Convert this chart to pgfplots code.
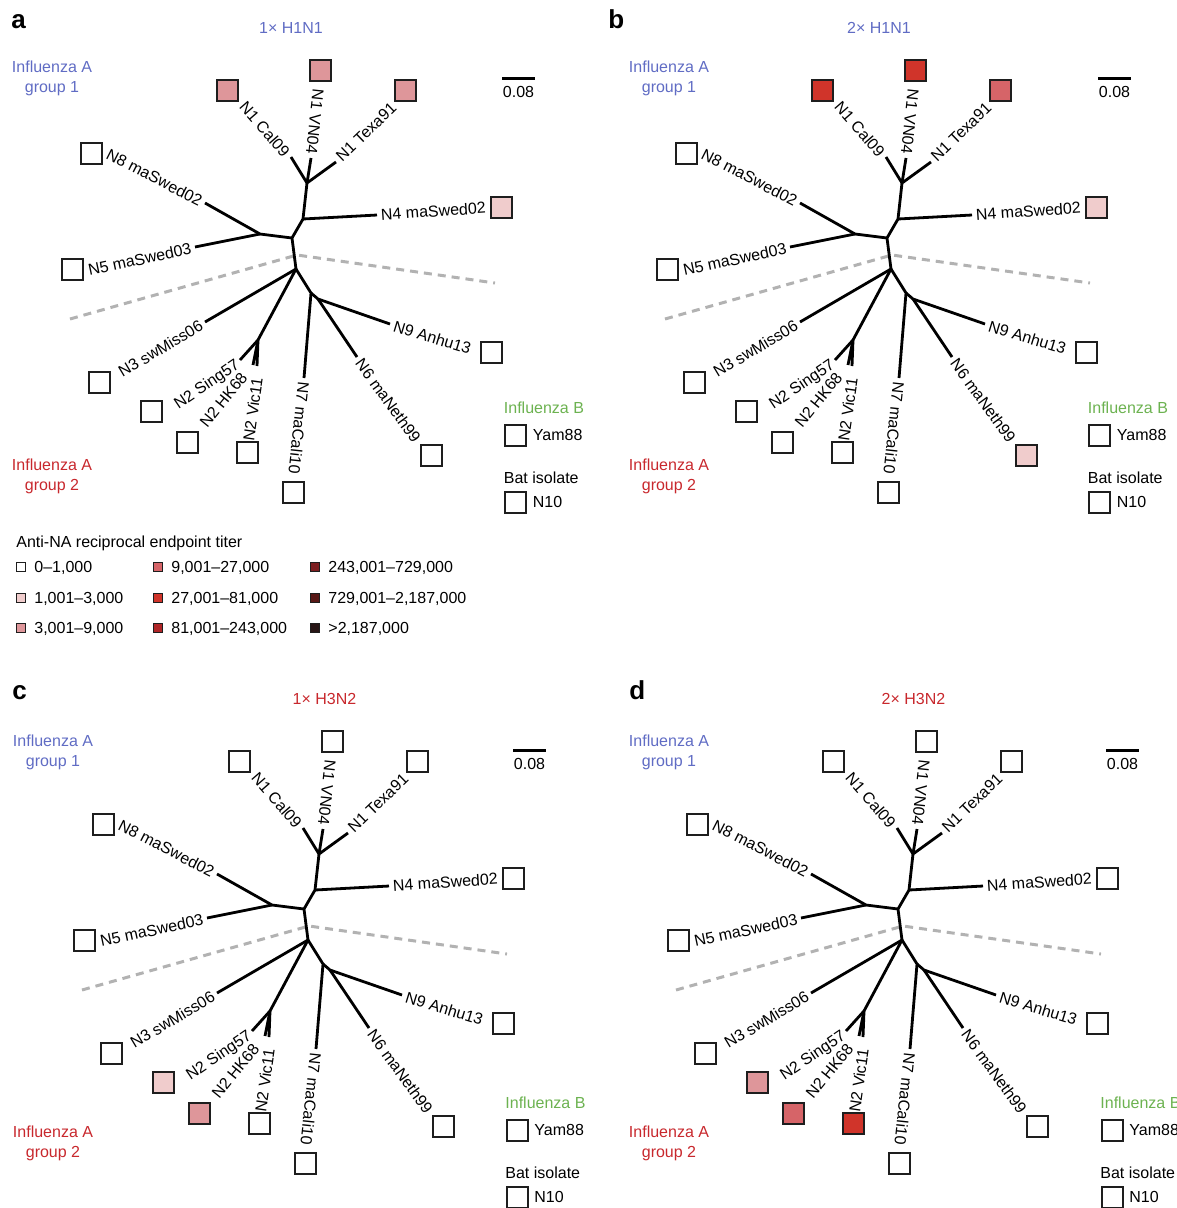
\documentclass[border=0pt]{standalone}
\usepackage{fontspec}
\setmainfont{Liberation Sans}
\usepackage{pgfplots}
\pgfplotsset{compat=1.18}
\definecolor{tA}{RGB}{255,255,255}
\definecolor{tB}{RGB}{240,204,204}
\definecolor{tC}{RGB}{222,150,154}
\definecolor{tD}{RGB}{214,100,104}
\definecolor{tE}{RGB}{208,52,42}
\definecolor{tF}{RGB}{176,38,40}
\definecolor{tG}{RGB}{124,30,32}
\definecolor{tH}{RGB}{88,24,22}
\definecolor{tI}{RGB}{40,22,22}
\definecolor{gblue}{RGB}{96,108,196}
\definecolor{gred}{RGB}{200,40,45}
\definecolor{ggreen}{RGB}{108,178,80}
\definecolor{sqb}{RGB}{30,30,30}
\definecolor{dgray}{RGB}{178,178,178}
\newcommand{\lab}{\fontsize{8pt}{10pt}\selectfont}
\tikzset{
  leaf/.style={font=\lab, text height=5.7pt, text depth=0pt, inner sep=0.8pt},
  txt/.style={font=\lab, inner sep=0pt},
}
\pgfplotsset{
  panel/.style={xmin=0, xmax=600, ymin=0, ymax=600, y dir=reverse,
    width=300pt, height=300pt, scale only axis, hide axis, clip=false,
    anchor=north west},
  br/.style={black, line width=1.4pt, line join=round, no markers},
  sq/.style={only marks, mark=square*, mark size=5.25pt,
    mark options={fill=#1, draw=sqb, line width=1pt, solid}},
  lsq/.style={only marks, mark=square*, mark size=2.3pt,
    mark options={fill=#1, draw=sqb, line width=0.55pt, solid}},
}
\newcommand{\tree}{%
  \addplot[dgray, line width=1.5pt, dash pattern=on 4pt off 3pt, no markers]
    coordinates {(70,319)(297,255)(495,283)};
  \addplot[br] coordinates {(291,157)(307,183)(311,158)};
  \addplot[br] coordinates {(336,162)(307,183)(303,219)(292,238)(296,269)};
  \addplot[br] coordinates {(303,219)(377,215)};
  \addplot[br] coordinates {(292,238)(260,234)(205,203)};
  \addplot[br] coordinates {(260,234)(195,247)};
  \addplot[br] coordinates {(205,322)(296,269)(311,293)(304,378)};
  \addplot[br] coordinates {(296,269)(258,340)(240,360)};
  \addplot[br] coordinates {(253,365)(258,340)(257,366)};
  \addplot[br] coordinates {(311,293)(318,299)(390,324)};
  \addplot[br] coordinates {(318,299)(357,357)};
  \addplot[sq=white] coordinates {(227,90)(320,70)(405,90)(91,153)(501,207)(72,269)
    (99,382)(151,411)(187,442)(247,452)(293,492)(431,455)(491,352)};
  \node[leaf, anchor=east, rotate=-49] at (axis cs:288,156) {N1 Cal09};
  \node[leaf, anchor=east, rotate=-96] at (axis cs:311.5,156) {N1 VN04};
  \node[leaf, anchor=west, rotate=44] at (axis cs:337,160) {N1 Texa91};
  \node[leaf, anchor=east, rotate=-27] at (axis cs:203,202) {N8 maSwed02};
  \node[leaf, anchor=west, rotate=4] at (axis cs:379,215) {N4 maSwed02};
  \node[leaf, anchor=east, rotate=12] at (axis cs:193,248) {N5 maSwed03};
  \node[leaf, anchor=east, rotate=31] at (axis cs:203,323) {N3 swMiss06};
  \node[leaf, anchor=east, rotate=34] at (axis cs:239,362) {N2 Sing57};
  \node[leaf, anchor=east, rotate=51] at (axis cs:245,373) {N2 HK68};
  \node[leaf, anchor=east, rotate=82] at (axis cs:257.5,376) {N2 Vic11};
  \node[leaf, anchor=west, rotate=-96] at (axis cs:304,380) {N7 maCali10};
  \node[leaf, anchor=west, rotate=-54] at (axis cs:358,359) {N6 maNeth99};
  \node[leaf, anchor=west, rotate=-17] at (axis cs:392,325) {N9 Anhu13};
}
% #1 letter x, #2 letter, #3 title x, #4 title, #5 title colour, #6 group label x
% #7 scale bar left, #8 group1 y shift
\newcommand{\head}[8]{%
  \node[anchor=base west, inner sep=0pt, font=\fontsize{13pt}{15pt}\bfseries\selectfont] at (axis cs:#1,28.5) {#2};
  \node[txt, text=#5] at (axis cs:#3,27.5) {#4};
  \node[txt, text=gblue, anchor=base] at (axis cs:#6,{72.5+#8}) {Influenza A};
  \node[txt, text=gblue, anchor=base] at (axis cs:#6,{92.5+#8}) {group 1};
  \addplot[black, line width=1.5pt, no markers] coordinates {(#7,{78+#8/3})({#7+33},{78+#8/3})};
  \node[txt, anchor=base] at (axis cs:{#7+16.5},{97.5+#8/3}) {0.08};
}
% #1 x of left text, #2 y shift, #3 group2 x, #4 group2 y shift
\newcommand{\sides}[4]{%
  \node[txt, text=ggreen, anchor=base west] at (axis cs:#1,{413.5+#2}) {Influenza B};
  \addplot[sq=white] coordinates {({#1+12},{435+#2})({#1+12},{502+#2})};
  \node[txt, anchor=base west] at (axis cs:{#1+29},{440.5+#2}) {Yam88};
  \node[txt, anchor=base west] at (axis cs:#1,{483+#2}) {Bat isolate};
  \node[txt, anchor=base west] at (axis cs:{#1+29},{507.5+#2}) {N10};
  \node[txt, text=gred, anchor=base] at (axis cs:#3,{470.5+#4}) {Influenza A};
  \node[txt, text=gred, anchor=base] at (axis cs:#3,{490.5+#4}) {group 2};
}
\begin{document}
\begin{tikzpicture}
\path[use as bounding box] (0,0) rectangle (588pt,-604pt);
% ---------- panel a ----------
\begin{axis}[panel, at={(0pt,0pt)}]
\tree
\addplot[sq=tC] coordinates {(227,90)(320,70)(405,90)};
\addplot[sq=tB] coordinates {(501,207)};
\head{11}{a}{291}{1\texttimes{} H1N1}{gblue}{52}{502}{0}
\sides{503.5}{0}{52}{0}
% legend
\node[txt, anchor=base west] at (axis cs:16,547) {Anti-NA reciprocal endpoint titer};
\addplot[lsq=tA] coordinates {(21,567)};
\addplot[lsq=tB] coordinates {(21,598)};
\addplot[lsq=tC] coordinates {(21,628)};
\addplot[lsq=tD] coordinates {(158,567)};
\addplot[lsq=tE] coordinates {(158,598)};
\addplot[lsq=tF] coordinates {(158,628)};
\addplot[lsq=tG] coordinates {(315,567)};
\addplot[lsq=tH] coordinates {(315,598)};
\addplot[lsq=tI] coordinates {(315,628)};
\node[txt, anchor=base west] at (axis cs:34,572.5) {0–1,000};
\node[txt, anchor=base west] at (axis cs:34,603.5) {1,001–3,000};
\node[txt, anchor=base west] at (axis cs:34,633.5) {3,001–9,000};
\node[txt, anchor=base west] at (axis cs:171,572.5) {9,001–27,000};
\node[txt, anchor=base west] at (axis cs:171,603.5) {27,001–81,000};
\node[txt, anchor=base west] at (axis cs:171,633.5) {81,001–243,000};
\node[txt, anchor=base west] at (axis cs:328,572.5) {243,001–729,000};
\node[txt, anchor=base west] at (axis cs:328,603.5) {729,001–2,187,000};
\node[txt, anchor=base west] at (axis cs:328,633.5) {>2,187,000};
\end{axis}
% ---------- panel b ----------
\begin{axis}[panel, at={(297.5pt,0pt)}]
\tree
\addplot[sq=tE] coordinates {(227,90)(320,70)};
\addplot[sq=tD] coordinates {(405,90)};
\addplot[sq=tB] coordinates {(501,207)(431,455)};
\head{13}{b}{284}{2\texttimes{} H1N1}{gblue}{74}{503}{0}
\sides{492.5}{0}{74}{0}
\end{axis}
% ---------- panel c ----------
\begin{axis}[panel, at={(6pt,-335.5pt)}]
\tree
\addplot[sq=tB] coordinates {(151,411)};
\addplot[sq=tC] coordinates {(187,442)};
\head{0}{c}{312.5}{1\texttimes{} H3N2}{gred}{41}{501}{3}
\sides{493}{24}{41}{-4}
\end{axis}
% ---------- panel d ----------
\begin{axis}[panel, at={(303pt,-335.5pt)}]
\tree
\addplot[sq=tC] coordinates {(151,411)};
\addplot[sq=tD] coordinates {(187,442)};
\addplot[sq=tE] coordinates {(247,452)};
\head{23}{d}{307.5}{2\texttimes{} H3N2}{gred}{63}{500}{3}
\sides{494}{24}{63}{-4}
\end{axis}
\end{tikzpicture}
\end{document}
